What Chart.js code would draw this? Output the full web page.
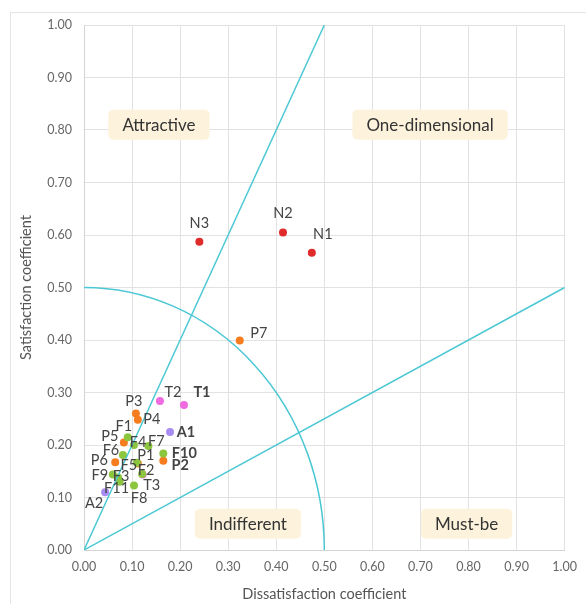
<!DOCTYPE html>
<html>
<head>
<meta charset="utf-8">
<script src="https://cdn.jsdelivr.net/npm/chart.js@4"></script>
<style>
  html, body { margin: 0; padding: 0; background: #fff; overflow: hidden; }
  #frame { position: absolute; left: 10px; top: 12px; width: 600px; height: 620px; border: 1px solid #e4e4e4; }
  #myChart { position: absolute; left: 0; top: 0; }
</style>
</head>
<body>
<div id="frame"></div>
<canvas id="myChart" width="586" height="604"></canvas>
<script>
// Kano evaluation: x = dissatisfaction, y = satisfaction
const fNames = ['F1', 'F2', 'F3', 'F4', 'F5', 'F6', 'F7', 'F8', 'F9', 'F10', 'F11'];
const fX = [0.091, 0.121, 0.071, 0.104, 0.110, 0.081, 0.134, 0.104, 0.060, 0.165, 0.074];
const fY = [0.215, 0.145, 0.138, 0.200, 0.166, 0.181, 0.198, 0.123, 0.144, 0.184, 0.130];

const pNames = ['P1', 'P2', 'P3', 'P4', 'P5', 'P6', 'P7'];
const pX = [0.112, 0.165, 0.108, 0.112, 0.083, 0.065, 0.324];
const pY = [0.165, 0.170, 0.260, 0.248, 0.205, 0.167, 0.399];

const tNames = ['T1', 'T2', 'T3'];
const tX = [0.208, 0.158, 0.122];
const tY = [0.276, 0.284, 0.144];

const aNames = ['A1', 'A2'];
const aX = [0.179, 0.044];
const aY = [0.225, 0.110];

const nNames = ['N1', 'N2', 'N3'];
const nX = [0.474, 0.414, 0.240];
const nY = [0.566, 0.605, 0.587];

// divider lines and circle
const upperLineX = [0, 0.5];
const upperLineY = [0, 1];
const lowerLineX = [0, 1];
const lowerLineY = [0, 0.5];
const circleRadius = 0.5;

const axisTicks = [0, 0.1, 0.2, 0.3, 0.4, 0.5, 0.6, 0.7, 0.8, 0.9, 1.0];

const zoneNames = ['Attractive', 'One-dimensional', 'Indifferent', 'Must-be'];
const zoneX = [0.156, 0.720, 0.341, 0.796];
const zoneY = [0.810, 0.810, 0.050, 0.050];

const boldLabels = ['T1', 'A1', 'F10', 'P2'];

// label offsets from the dot, in pixels
const labelOffset = {
    N1: [11, -19], N2: [0, -19], N3: [0, -18], P7: [19, -7],
    T1: [18, -13], T2: [13, -9], T3: [9, 11],
    P1: [8, -8], P2: [17, 5], P3: [-2, -12], P4: [14, 0], P5: [-14, -6], P6: [-16, -2],
    A1: [16, 0], A2: [-11, 11],
    F1: [-4, -11], F2: [4, -4], F3: [3, -1], F4: [4, -3], F5: [-8, 2], F6: [-12, -5],
    F7: [8, -5], F8: [5, 13], F9: [-13, 1], F10: [21, 0], F11: [-3, 7]
};

const cyan = '#4cc8d4';
const font = 'Lato, "Open Sans", sans-serif';

function toPoints(xs, ys) {
    return xs.map((x, i) => ({ x: x, y: ys[i] }));
}

function pointSet(names, xs, ys, color) {
    return {
        type: 'scatter',
        data: toPoints(xs, ys),
        names: names,
        backgroundColor: color,
        borderColor: color,
        pointRadius: 4,
        pointHoverRadius: 4,
        borderWidth: 0
    };
}

function lineSet(xs, ys) {
    return {
        type: 'line',
        data: toPoints(xs, ys),
        borderColor: cyan,
        borderWidth: 1.5,
        pointRadius: 0,
        fill: false,
        names: []
    };
}

const zonePlugin = {
    id: 'zones',
    beforeDatasetsDraw(chart) {
        const { ctx, scales: { x, y }, chartArea } = chart;
        ctx.save();
        // quarter circle
        ctx.beginPath();
        ctx.rect(chartArea.left, chartArea.top, chartArea.right - chartArea.left, chartArea.bottom - chartArea.top);
        ctx.clip();
        const cx = x.getPixelForValue(0);
        const cy = y.getPixelForValue(0);
        const rx = x.getPixelForValue(circleRadius) - cx;
        const ry = cy - y.getPixelForValue(circleRadius);
        ctx.beginPath();
        ctx.ellipse(cx, cy, rx, ry, 0, -Math.PI / 2, 0);
        ctx.strokeStyle = cyan;
        ctx.lineWidth = 1.5;
        ctx.stroke();
        ctx.restore();

        ctx.save();
        ctx.font = '17px ' + font;
        ctx.textAlign = 'center';
        ctx.textBaseline = 'middle';
        zoneNames.forEach((name, i) => {
            const px = x.getPixelForValue(zoneX[i]);
            const py = y.getPixelForValue(zoneY[i]);
            const w = ctx.measureText(name).width + 28;
            const h = 30;
            ctx.fillStyle = '#fdf3dc';
            ctx.beginPath();
            ctx.roundRect(px - w / 2, py - h / 2, w, h, 5);
            ctx.fill();
            ctx.fillStyle = '#333';
            ctx.fillText(name, px, py + 1);
        });
        ctx.restore();
    },
    afterDatasetsDraw(chart) {
        const { ctx } = chart;
        ctx.save();
        ctx.textAlign = 'center';
        ctx.textBaseline = 'middle';
        ctx.fillStyle = '#444';
        chart.data.datasets.forEach((ds, di) => {
            const meta = chart.getDatasetMeta(di);
            (ds.names || []).forEach((name, i) => {
                const el = meta.data[i];
                const off = labelOffset[name] || [0, -12];
                ctx.font = (boldLabels.includes(name) ? 'bold ' : '') + '14.5px ' + font;
                ctx.fillText(name, el.x + off[0], el.y + off[1]);
            });
        });
        ctx.restore();
    }
};

function axisOptions(title, isX) {
    return {
        type: 'linear',
        min: 0,
        max: 1,
        afterBuildTicks: scale => {
            scale.ticks = axisTicks.map(v => ({ value: v }));
        },
        ticks: {
            callback: v => Number(v).toFixed(2),
            color: '#666',
            font: { family: font, size: 12.5 },
            padding: isX ? 9 : 12
        },
        grid: { color: '#e2e2e2', drawTicks: false },
        border: { color: '#d4d4d4' },
        title: {
            display: true,
            text: title,
            color: '#555',
            font: { family: font, size: 14.5 },
            padding: isX ? { top: 0, bottom: 1 } : { top: 18, bottom: 0 }
        },
        afterFit: scale => {
            if (isX) {
                scale.height = 54;
            } else {
                scale.width = 84;
            }
        }
    };
}

const ctx = document.getElementById('myChart').getContext('2d');
new Chart(ctx, {
    data: {
        datasets: [
            lineSet(upperLineX, upperLineY),
            lineSet(lowerLineX, lowerLineY),
            pointSet(fNames, fX, fY, '#8cc63f'),
            pointSet(pNames, pX, pY, '#f57c1f'),
            pointSet(tNames, tX, tY, '#f06ae0'),
            pointSet(aNames, aX, aY, '#a98cf2'),
            pointSet(nNames, nX, nY, '#e02b2b')
        ]
    },
    options: {
        responsive: false,
        animation: false,
        devicePixelRatio: 1,
        layout: { padding: { left: 0, right: 16, top: 25, bottom: 0 } },
        plugins: {
            legend: { display: false },
            tooltip: { enabled: false }
        },
        scales: {
            x: axisOptions('Dissatisfaction coefficient', true),
            y: axisOptions('Satisfaction coefficient', false)
        }
    },
    plugins: [zonePlugin]
});
</script>
</body>
</html>
